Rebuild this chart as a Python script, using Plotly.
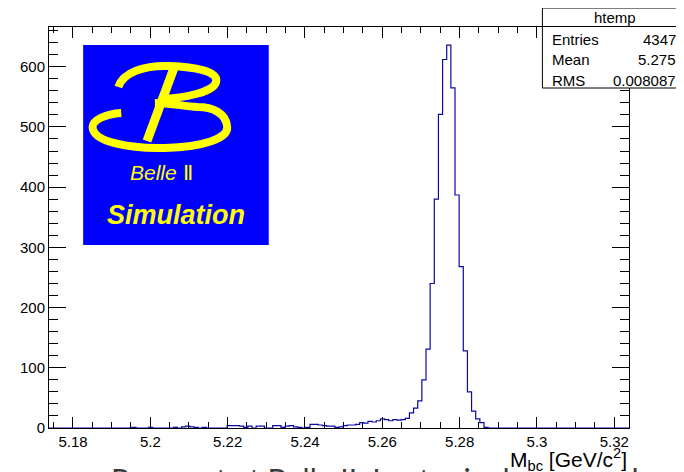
import plotly.graph_objects as go

# htemp: M_bc histogram, 140 bins
x_lo = 5.1738
x_hi = 5.3238
n_bins = 140
counts = [
    0, 0, 0, 0, 0, 0, 0, 0, 0, 0,
    0, 0, 0, 0, 0, 0, 0, 0, 0, 0,
    1, 0, 0, 0, 1, 0, 0, 0, 0, 0,
    1, 0, 2, 3, 2, 1, 0, 1, 0, 0,
    0, 0, 0, 4, 4, 4, 3, 1, 3, 0,
    3, 3, 0, 0, 4, 4, 1, 3, 4, 2,
    1, 0, 1, 6, 6, 5, 4, 3, 3, 1,
    2, 4, 5, 5, 6, 9, 8, 11, 10, 12,
    15, 14, 12, 14, 13, 14, 16, 25, 33, 45,
    80, 131, 240, 380, 521, 612, 636, 565, 387, 268,
    128, 60, 28, 15, 9, 1, 0, 0, 0, 0,
    0, 0, 0, 0, 0, 0, 0, 0, 0, 0,
    0, 0, 0, 0, 0, 0, 0, 0, 0, 0,
    0, 0, 0, 0, 0, 0, 0, 0, 0, 0,
]

x_ticks = [5.18, 5.2, 5.22, 5.24, 5.26, 5.28, 5.3, 5.32]
x_ticktext = ['5.18', '5.2', '5.22', '5.24', '5.26', '5.28', '5.3', '5.32']
y_ticks = [0, 100, 200, 300, 400, 500, 600]

stat_labels = ['Entries', 'Mean', 'RMS']
stat_values = ['4347', '5.275', '0.008087']

# page is drawn with an 8px body margin, so the figure is 8px smaller
OFF = 8
W, H = 684 - OFF, 472 - OFF
L, R, T, B = 43 - OFF, 55, 27 - OFF, 44
pw, ph = W - L - R, H - T - B


# page pixel -> paper coords
def px(x):
    return (x - OFF - L) / pw


def py(y):
    return (H - B - (y - OFF)) / ph


bw = (x_hi - x_lo) / n_bins
edges = [x_lo + i * bw for i in range(n_bins + 1)]

fig = go.Figure()
fig.add_trace(go.Scatter(x=edges, y=counts + [counts[-1]], mode='lines',
                         line=dict(shape='hv', color='#0a0aa0', width=1.2),
                         showlegend=False, hoverinfo='skip', cliponaxis=False))

font = 'Liberation Sans, Arial, sans-serif'
shapes = []
annos = []


def txt(x, y, s, size, color='black', xa='center', fam=font, ya='middle'):
    annos.append(dict(x=x, y=y, xref='paper', yref='paper', text=s, xanchor=xa, yanchor=ya,
                      showarrow=False, font=dict(family=fam, size=size, color=color)))


# stats box
shapes.append(dict(type='rect', xref='paper', yref='paper',
                   x0=px(541.5), x1=px(700), y0=py(88), y1=py(8),
                   fillcolor='white', line=dict(color='black', width=1), layer='above'))
shapes.append(dict(type='line', xref='paper', yref='paper',
                   x0=px(541.5), x1=px(700), y0=py(26.5), y1=py(26.5),
                   line=dict(color='black', width=1), layer='above'))
txt(px(615), py(17), 'htemp', 15)
for i, (lab, val) in enumerate(zip(stat_labels, stat_values)):
    yy = py(40 + 20 * i)
    txt(px(549), yy, lab, 15, xa='left')
    txt(px(679), yy, val, 15, xa='right')

# Belle II logo
shapes.append(dict(type='rect', xref='paper', yref='paper',
                   x0=px(77.5), x1=px(265), y0=py(245), y1=py(45),
                   fillcolor='#0000ff', line=dict(color='#0000ff', width=0), layer='above'))


def path(pts):
    s = 'M %.4f,%.4f' % (px(pts[0][0]), py(pts[0][1]))
    for i in range(1, len(pts), 3):
        s += ' C ' + ' '.join('%.4f,%.4f' % (px(a), py(b)) for a, b in pts[i:i + 3])
    return s


upper = [(113, 87), (118, 72), (140, 65), (165, 66), (190, 67), (213, 71), (212, 81),
         (211, 92), (180, 98), (155, 99)]
lower = [(116, 113), (100, 114), (87, 120), (87, 127), (87, 142), (125, 149), (160, 148),
         (200, 147), (224, 138), (223, 127), (222, 113), (208, 107), (193, 107),
         (178, 106), (165, 103), (150, 103)]
for p in (upper, lower):
    shapes.append(dict(type='path', xref='paper', yref='paper', path=path(p),
                       line=dict(color='#ffff00', width=8), layer='above'))
shapes.append(dict(type='line', xref='paper', yref='paper',
                   x0=px(170), y0=py(66), x1=px(142), y1=py(141),
                   line=dict(color='#ffff00', width=9), layer='above'))
txt(px(157), py(172), '<i>Belle</i> Ⅱ', 21, color='#ffff00')
txt(px(171), py(215), '<b><i>Simulation</i></b>', 27, color='#ffff00')

# slide title behind (cut off at the bottom)
txt(px(104), py(459), 'Prospect at Belle II: Leptonic decays and', 30, color='#3a3a3a',
    xa='left', ya='top', fam='Lato, sans-serif')
# axis title
txt(1.0, py(460), 'M<sub>bc</sub> [GeV/c<sup>2</sup>]', 21, xa='right')

fig.update_layout(
    width=W, height=H,
    margin=dict(l=L, r=R, t=T, b=B),
    paper_bgcolor='white', plot_bgcolor='white',
    shapes=shapes, annotations=annos,
    font=dict(family=font, size=15, color='black'),
)
fig.update_xaxes(range=[x_lo, x_hi], tickmode='array', tickvals=x_ticks, ticktext=x_ticktext,
                 ticks='inside', ticklen=11, tickcolor='black', showline=True, linecolor='black',
                 linewidth=1, mirror='allticks', showgrid=False, zeroline=False,
                 layer='below traces',
                 minor=dict(ticks='inside', ticklen=6, tick0=5.18, dtick=0.005, tickcolor='black'),
                 tickfont=dict(size=15))
fig.update_yaxes(range=[0, 666], tickmode='array', tickvals=y_ticks,
                 ticks='inside', ticklen=17, tickcolor='black', showline=True, linecolor='black',
                 linewidth=1, mirror='allticks', showgrid=False, zeroline=False,
                 minor=dict(ticks='inside', ticklen=9, tick0=0, dtick=20, tickcolor='black'),
                 tickfont=dict(size=15))

fig.write_html('out.html')
